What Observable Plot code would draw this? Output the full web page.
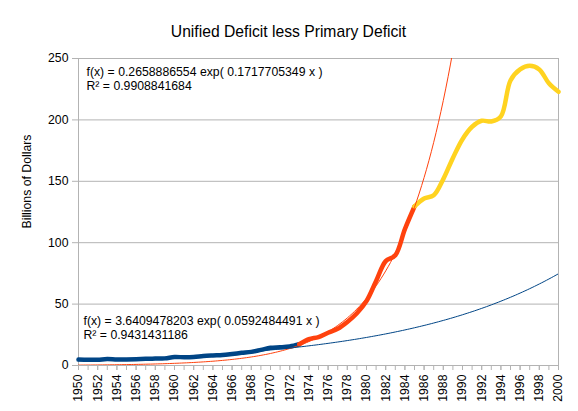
<!DOCTYPE html>
<html>
<head>
<meta charset="utf-8">
<script src="https://cdn.jsdelivr.net/npm/d3@7"></script>
<script src="https://cdn.jsdelivr.net/npm/@observablehq/plot@0.6"></script>
<style>
  html, body { margin: 0; padding: 0; background: white; }
  #chart svg { display: block; }
</style>
</head>
<body>
<div id="chart"></div>
<script>
// Years (x categories)
const years = [1950,1951,1952,1953,1954,1955,1956,1957,1958,1959,
  1960,1961,1962,1963,1964,1965,1966,1967,1968,1969,
  1970,1971,1972,1973,1974,1975,1976,1977,1978,1979,
  1980,1981,1982,1983,1984,1985,1986,1987,1988,1989,
  1990,1991,1992,1993,1994,1995,1996,1997,1998,1999,2000];

// Series 1 (blue): 1950–1973
const blueYears = [1950,1951,1952,1953,1954,1955,1956,1957,1958,1959,1960,1961,
  1962,1963,1964,1965,1966,1967,1968,1969,1970,1971,1972,1973];
const blueValues = [4.8,4.7,4.7,5.2,4.8,4.9,5.1,5.4,5.6,5.8,6.9,6.7,
  6.9,7.7,8.2,8.6,9.4,10.3,11.1,12.7,14.4,14.8,15.5,17.3];

// Series 2 (red): 1973–1985
const redYears = [1973,1974,1975,1976,1977,1978,1979,1980,1981,1982,1983,1984,1985];
const redValues = [17.3,21.4,23.2,26.7,29.9,35.5,42.6,52.5,68.8,85.0,89.8,111.1,129.5];

// Series 3 (yellow): 1985–2000
const yellowYears = [1985,1986,1987,1988,1989,1990,1991,1992,1993,1994,1995,1996,1997,1998,1999,2000];
const yellowValues = [129.5,136.0,138.6,151.8,169.0,184.3,194.4,199.3,198.7,202.9,232.1,241.1,244.0,241.1,229.8,222.9];

// Trend line coefficients as printed on the chart (x = year - 1949)
const redTrend = {a: 0.2658886554, b: 0.1717705349, r2: 0.9908841684};
const blueTrend = {a: 3.6409478203, b: 0.0592484491, r2: 0.9431431186};

const yTicks = [0, 50, 100, 150, 200, 250];
const xLabelTicks = years.filter(y => y % 2 === 0);

const blueData = blueYears.map((y, i) => ({year: y, value: blueValues[i]}));
const redData = redYears.map((y, i) => ({year: y, value: redValues[i]}));
const yellowData = yellowYears.map((y, i) => ({year: y, value: yellowValues[i]}));
const trendPts = (t) => {
  const pts = [];
  for (let i = 0; i < years.length - 1; i++) {
    for (let k = 0; k < 4; k++) {
      const x = years[i] + k / 4;
      pts.push({year: x, value: t.a * Math.exp(t.b * (x - 1949))});
    }
  }
  const xl = years[years.length - 1];
  pts.push({year: xl, value: t.a * Math.exp(t.b * (xl - 1949))});
  return pts;
};
const redTrendData = trendPts(redTrend);
const blueTrendData = trendPts(blueTrend);

const BLUE = "#004586", RED = "#ff420e", YELLOW = "#ffd320", GRID = "#b3b3b3";
const FS = 12.25;

const chart = Plot.plot({
  width: 578,
  height: 411,
  marginLeft: 78,
  marginRight: 20,
  marginTop: 58,
  marginBottom: 46,
  style: {fontFamily: "'Liberation Sans', Arial, sans-serif", fontSize: "12px", background: "white", color: "black"},
  x: {domain: [1950, 2000]},
  y: {domain: [0, 250]},
  marks: [
    Plot.ruleY(yTicks, {stroke: GRID, strokeWidth: 1}),
    Plot.ruleX([1950, 2000], {stroke: GRID, strokeWidth: 1}),
    Plot.axisY({ticks: yTicks, tickSize: 6, tickPadding: 4, stroke: GRID, label: null, fontSize: FS}),
    Plot.axisX({ticks: years, tickSize: 5, text: null, stroke: GRID, label: null}),
    Plot.axisX({ticks: xLabelTicks, tickSize: 5, tickPadding: 4, tickRotate: -90, stroke: GRID,
      tickFormat: d => String(d), label: null, fontSize: FS}),
    Plot.lineY(blueData, {x: "year", y: "value", stroke: BLUE, strokeWidth: 4.5, curve: "catmull-rom"}),
    Plot.lineY(redData, {x: "year", y: "value", stroke: RED, strokeWidth: 4.5, curve: "catmull-rom"}),
    Plot.lineY(yellowData, {x: "year", y: "value", stroke: YELLOW, strokeWidth: 4.5, curve: "catmull-rom"}),
    Plot.lineY(redTrendData, {x: "year", y: "value", stroke: RED, strokeWidth: 1, clip: true}),
    Plot.lineY(blueTrendData, {x: "year", y: "value", stroke: BLUE, strokeWidth: 1, clip: true}),
    Plot.text(["Unified Deficit less Primary Deficit"], {frameAnchor: "top", lineAnchor: "bottom",
      dx: -30, dy: -22, fontSize: 15.7, fill: "black"}),
    Plot.text(["Billions of Dollars"], {frameAnchor: "left", rotate: -90, dx: -51, dy: 16.5,
      fontSize: FS, fill: "black"}),
    Plot.text([`f(x) = ${redTrend.a} exp( ${redTrend.b} x )`], {frameAnchor: "top-left", textAnchor: "start",
      lineAnchor: "bottom", dx: 8, dy: 17, fontSize: FS, fill: "black"}),
    Plot.text([`R² = ${redTrend.r2}`], {frameAnchor: "top-left", textAnchor: "start",
      lineAnchor: "bottom", dx: 8, dy: 31, fontSize: FS, fill: "black"}),
    Plot.text([`f(x) = ${blueTrend.a} exp( ${blueTrend.b} x )`], {frameAnchor: "top-left", textAnchor: "start",
      lineAnchor: "bottom", dx: 5, dy: 266, fontSize: FS, fill: "black"}),
    Plot.text([`R² = ${blueTrend.r2}`], {frameAnchor: "top-left", textAnchor: "start",
      lineAnchor: "bottom", dx: 5, dy: 280, fontSize: FS, fill: "black"})
  ]
});
document.getElementById("chart").appendChild(chart);
</script>
</body>
</html>
